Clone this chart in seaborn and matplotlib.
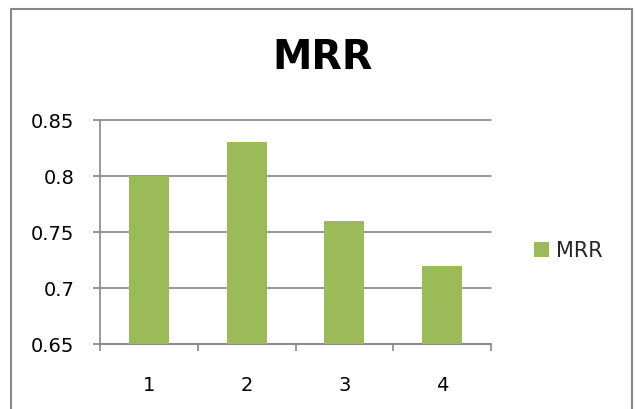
import matplotlib
matplotlib.use("Agg")
import matplotlib.pyplot as plt
from matplotlib.patches import Patch, Rectangle
import seaborn as sns

categories = ["1", "2", "3", "4"]
mrr_values = [0.80, 0.83, 0.76, 0.72]
y_ticks = [0.65, 0.70, 0.75, 0.80, 0.85]
y_tick_labels = ["0.65", "0.7", "0.75", "0.8", "0.85"]
series_name = "MRR"

BAR_COLOR = "#9BBB59"
LINE_GRAY = "#888888"

sns.set_theme(style="white")
plt.rcParams["font.family"] = ["DejaVu Sans"]

W, H = 635, 409
fig = plt.figure(figsize=(W / 100, H / 100), dpi=100)
ax = fig.add_axes([100 / W, (H - 344) / H, (491 - 100) / W, (344 - 120) / H])

sns.barplot(x=categories, y=mrr_values, color=BAR_COLOR, width=0.41,
            saturation=1, linewidth=0, edgecolor="none", ax=ax, zorder=3)

ax.set_ylim(0.65, 0.85)
ax.set_xlim(-0.5, len(categories) - 0.5)
ax.set_yticks(y_ticks)
ax.set_yticklabels(y_tick_labels)
ax.yaxis.grid(True, color=LINE_GRAY, linewidth=1.2, zorder=0)
ax.set_axisbelow(True)
for gl in ax.get_ygridlines():
    gl.set_clip_on(False)

for side in ("top", "right"):
    ax.spines[side].set_visible(False)
for side in ("left", "bottom"):
    ax.spines[side].set_color(LINE_GRAY)
    ax.spines[side].set_linewidth(1.2)

# category boundary ticks on x, labels centred without marks
ax.set_xticks([i - 0.5 for i in range(len(categories) + 1)], minor=True)
ax.tick_params(axis="x", which="minor", length=5, width=1.2, color=LINE_GRAY,
               direction="out", bottom=True)
ax.tick_params(axis="x", which="major", length=0, pad=23, labelsize=14,
               labelcolor="black")
ax.tick_params(axis="y", which="major", length=5, width=1.2, color=LINE_GRAY,
               direction="out", left=True, pad=13.5, labelsize=14,
               labelcolor="black")
ax.set_xlabel("")
ax.set_ylabel("")

fig.text(323 / W, (H - 58) / H, series_name, ha="center", va="center",
         fontsize=28.5, fontweight="bold", color="black")

handle = Patch(facecolor=BAR_COLOR, edgecolor="none", label=series_name)
fig.legend(handles=[handle], loc="center left",
           bbox_to_anchor=(534 / W, (H - 251) / H), frameon=False,
           fontsize=15, handlelength=0.72, handleheight=0.72,
           handletextpad=0.34, borderpad=0, borderaxespad=0)

fig.patches.append(Rectangle((11 / W, -0.05), (632 - 11) / W,
                             (H - 9) / H + 0.05, transform=fig.transFigure,
                             fill=False, edgecolor=LINE_GRAY, linewidth=1.5))

fig.savefig("out.png", dpi=100, facecolor="white")
